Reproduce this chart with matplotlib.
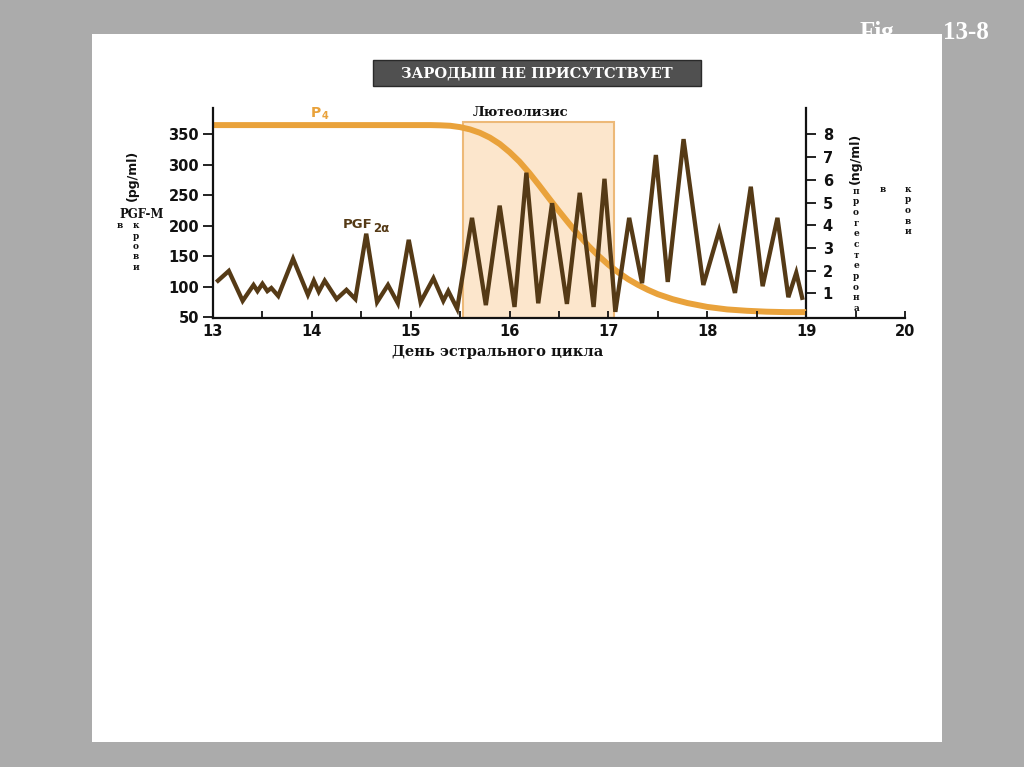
import matplotlib
matplotlib.use('Agg')
import matplotlib.pyplot as plt
from matplotlib.patches import Rectangle

# ---------------- data ----------------
pgf_day = [13.05, 13.16, 13.30, 13.41, 13.45, 13.50, 13.55, 13.59, 13.66, 13.81,
           13.96, 14.02, 14.07, 14.13, 14.25, 14.35, 14.44, 14.55, 14.66, 14.77,
           14.87, 14.98, 15.10, 15.23, 15.33, 15.38, 15.47, 15.62, 15.76, 15.90,
           16.05, 16.17, 16.29, 16.43, 16.58, 16.71, 16.85, 16.96, 17.07, 17.21,
           17.34, 17.48, 17.60, 17.76, 17.96, 18.12, 18.28, 18.44, 18.56, 18.71,
           18.82, 18.90, 18.96]
pgf_val = [110, 126, 77, 103, 93, 105, 93, 98, 85, 146,
           87, 110, 92, 110, 80, 95, 80, 187, 75, 103,
           73, 177, 75, 114, 77, 93, 64, 213, 70, 233,
           67, 287, 73, 237, 72, 254, 67, 277, 59, 213,
           106, 316, 108, 342, 103, 192, 90, 264, 101, 213,
           83, 123, 82]

p4_day = [13.00, 15.20, 15.30, 15.40, 15.50, 15.60, 15.70, 15.80, 15.90, 16.00,
          16.10, 16.20, 16.30, 16.40, 16.50, 16.60, 16.70, 16.80, 16.90, 17.00,
          17.10, 17.20, 17.30, 17.40, 17.50, 17.65, 17.80, 18.00, 18.20, 18.40,
          18.60, 18.80, 19.00]
p4_val = [8.41, 8.41, 8.40, 8.38, 8.32, 8.22, 8.07, 7.86, 7.58, 7.22,
          6.80, 6.30, 5.75, 5.18, 4.62, 4.08, 3.56, 3.08, 2.65, 2.26,
          1.92, 1.62, 1.37, 1.15, 0.96, 0.74, 0.57, 0.40, 0.29, 0.23,
          0.19, 0.17, 0.17]

luteolysis_span = (15.53, 17.06)

x_ticks = [13, 14, 15, 16, 17, 18, 19, 20]
x_minor = [13.5, 14.5, 15.5, 16.5, 17.5, 18.5, 19.5]
left_ticks = [50, 100, 150, 200, 250, 300, 350]
right_ticks = [1, 2, 3, 4, 5, 6, 7, 8]

title_text = "ЗАРОДЫШ НЕ ПРИСУТСТВУЕТ"
xlabel_text = "День эстрального цикла"
box_text = "Лютеолизис"

# ---------------- styling ----------------
W, H = 1024, 767
ORANGE = '#E9A23B'
BROWN = '#553A16'
SERIF = ['DejaVu Serif']
SANS = ['DejaVu Sans']

def fx(px):
    return px / W

def fy(py):
    return 1 - py / H

fig = plt.figure(figsize=(W / 100, H / 100), dpi=100)
fig.patch.set_facecolor('#ababab')

# "Fig. 13-8" in the grey margin
fig.text(fx(860), fy(39), "Fig.", color='white', fontsize=18, fontweight='bold',
         family=['Liberation Serif'], ha='left', va='baseline', zorder=-2)
fig.text(fx(943), fy(39), "13-8", color='white', fontsize=18, fontweight='bold',
         family=['Liberation Serif'], ha='left', va='baseline', zorder=-2)
# white slide area
fig.add_artist(Rectangle((fx(92), fy(742)), fx(942) - fx(92), fy(34) - fy(742),
                         transform=fig.transFigure, facecolor='white',
                         edgecolor='none', zorder=-1))

# title box
fig.add_artist(Rectangle((fx(373), fy(86)), fx(701) - fx(373), fy(60) - fy(86),
                         transform=fig.transFigure, facecolor='#505050',
                         edgecolor='#2a2a2a', linewidth=1.0, zorder=1))
fig.text(fx(537), fy(73.5), title_text, color='white', fontsize=10.5,
         fontweight='bold', family=SERIF, ha='center', va='center', zorder=2)

# axes
rect = [fx(213), fy(318), fx(905) - fx(213), fy(108) - fy(318)]
ax2 = fig.add_axes(rect)
ax = fig.add_axes(rect, sharex=ax2)
ax2.set_zorder(2)
ax.set_zorder(3)
ax.patch.set_alpha(0)
ax2.patch.set_alpha(0)

ax.set_xlim(13, 20)
ax.set_ylim(48.9, 393)
ax2.set_ylim(-0.088, 9.163)

# luteolysis box (behind)
ax2.axvspan(luteolysis_span[0], luteolysis_span[1], ymin=0, ymax=0.933,
            facecolor='#FCE6CC', edgecolor='#EDB978', linewidth=1.5, zorder=1)

# P4 curve
ax2.plot(p4_day, p4_val, color=ORANGE, linewidth=4.3, solid_capstyle='butt',
         solid_joinstyle='round', zorder=3)
# PGF line
ax.plot(pgf_day, pgf_val, color=BROWN, linewidth=3.1, solid_joinstyle='miter',
        zorder=4)

# spines
for s in ['top', 'right']:
    ax.spines[s].set_visible(False)
for s in ['top', 'left', 'bottom']:
    ax2.spines[s].set_visible(False)
ax2.spines['right'].set_position(('data', 19))
for a, s in [(ax, 'left'), (ax, 'bottom'), (ax2, 'right')]:
    a.spines[s].set_linewidth(1.6)
    a.spines[s].set_color('#111111')

# ticks
ax.set_xticks(x_ticks)
ax.set_xticks(x_minor, minor=True)
ax.set_yticks(left_ticks)
ax.tick_params(axis='x', which='both', direction='in', length=5, width=1.3,
               pad=4, labelsize=10.5, colors='#111111')
ax.tick_params(axis='y', which='both', direction='out', length=7, width=1.3,
               pad=3, labelsize=10.5, colors='#111111')
ax2.set_yticks(right_ticks)
ax2.tick_params(axis='y', which='both', direction='out', length=7, width=1.3,
                pad=5, labelsize=10.5, colors='#111111', right=True, left=False,
                labelright=True, labelleft=False)
ax2.tick_params(axis='x', which='both', bottom=False, labelbottom=False)
for lab in ax.get_xticklabels() + ax.get_yticklabels() + ax2.get_yticklabels():
    lab.set_fontweight('bold')
    lab.set_family(SANS)

# x label
fig.text(fx(498), fy(352), xlabel_text, fontsize=10.5, fontweight='bold',
         family=SERIF, ha='center', va='center', color='#111111')

# luteolysis label
fig.text(fx(521), fy(112), box_text, fontsize=9.5, fontweight='bold',
         family=SERIF, ha='center', va='center', color='#111111')

# P4 label
fig.text(fx(316), fy(113), "P", fontsize=10, fontweight='bold', family=SANS,
         ha='center', va='center', color=ORANGE)
fig.text(fx(322), fy(116), "4", fontsize=7, fontweight='bold', family=SANS,
         ha='left', va='center', color=ORANGE)

# PGF2α label
fig.text(fx(372), fy(225), "PGF", fontsize=9.5, fontweight='bold', family=SANS,
         ha='right', va='center', color=BROWN)
fig.text(fx(373), fy(228), "2α", fontsize=8.5, fontweight='bold', family=SANS,
         ha='left', va='center', color=BROWN)

# left axis labels
fig.text(fx(132), fy(175), "(pg/ml)", rotation=90, fontsize=9, fontweight='bold',
         family=SANS, ha='center', va='center', color='#111111')
fig.text(fx(142), fy(214), "PGF-M", fontsize=8.5, fontweight='bold',
         family=SERIF, ha='center', va='center', color='#111111')
fig.text(fx(120), fy(226), "в", fontsize=6.5, fontweight='bold', family=SERIF,
         ha='center', va='center', color='#111111')
for i, ch in enumerate("крови"):
    fig.text(fx(136), fy(226 + 10.3 * i), ch, fontsize=6.5, fontweight='bold',
             family=SERIF, ha='center', va='center', color='#111111')

# right axis labels
fig.text(fx(855), fy(158), "(ng/ml)", rotation=90, fontsize=9, fontweight='bold',
         family=SANS, ha='center', va='center', color='#111111')
for i, ch in enumerate("прогестерона"):
    fig.text(fx(856), fy(191 + 10.7 * i), ch, fontsize=6.5, fontweight='bold',
             family=SERIF, ha='center', va='center', color='#111111')
fig.text(fx(883), fy(189), "в", fontsize=6.5, fontweight='bold', family=SERIF,
         ha='center', va='center', color='#111111')
for i, ch in enumerate("крови"):
    fig.text(fx(908), fy(189 + 10.7 * i), ch, fontsize=6.5, fontweight='bold',
             family=SERIF, ha='center', va='center', color='#111111')

fig.savefig('out.png', dpi=100, facecolor=fig.get_facecolor())
